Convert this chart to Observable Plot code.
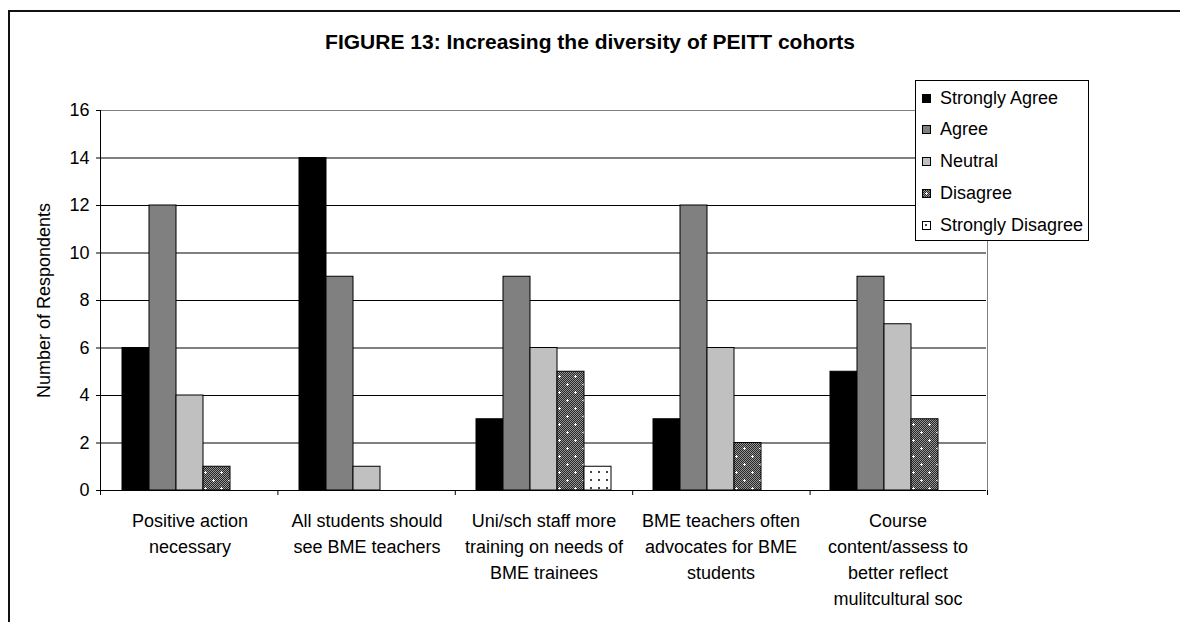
<!DOCTYPE html>
<html><head><meta charset="utf-8">
<script src="https://cdn.jsdelivr.net/npm/d3@7"></script>
<script src="https://cdn.jsdelivr.net/npm/@observablehq/plot@0.6"></script>
<style>
html,body{margin:0;padding:0;background:#fff;overflow:hidden;}
#wrap{position:relative;width:1180px;height:622px;overflow:hidden;font-family:"Liberation Sans",Arial,sans-serif;background:#fff;}
#frame{position:absolute;left:8px;top:10px;width:1200px;height:640px;border-left:2px solid #111;border-top:2px solid #111;pointer-events:none;z-index:3;}
#title{height:60px;box-sizing:border-box;padding-top:30px;line-height:24px;text-align:center;font-weight:bold;font-size:21px;color:#000;}
#legend{position:absolute;left:915px;top:80px;width:172px;height:159px;border:1px solid #000;background:#fff;z-index:2;font-size:18px;color:#000;}
.item{position:absolute;left:6px;height:22px;display:flex;align-items:center;white-space:nowrap;}
.item svg{margin-right:9px;display:block;}
#chart svg{display:block;}
</style></head><body>
<svg width="0" height="0" style="position:absolute;left:0;top:0">
  <defs>
    <pattern id="pDis" patternUnits="userSpaceOnUse" width="16" height="16"></pattern>
    <pattern id="pSDis" patternUnits="userSpaceOnUse" width="8" height="8">
      <rect width="8" height="8" fill="#fff"></rect>
      <rect x="3" y="3" width="2" height="2" fill="#444"></rect>
    </pattern>
  </defs>
</svg>
<div id="wrap"><div id="frame"></div><div id="title"></div><div id="chart"></div><div id="legend"></div></div>
<script>
// ---- data ----
const title = "FIGURE 13: Increasing the diversity of PEITT cohorts";
const yLabel = "Number of Respondents";
const categories = [
  "Positive action\nnecessary",
  "All students should\nsee BME teachers",
  "Uni/sch staff more\ntraining on needs of\nBME trainees",
  "BME teachers often\nadvocates for BME\nstudents",
  "Course\ncontent/assess to\nbetter reflect\nmulitcultural soc"
];
const series = ["Strongly Agree", "Agree", "Neutral", "Disagree", "Strongly Disagree"];
const stronglyAgree    = [6, 14, 3, 3, 5];
const agree            = [12, 9, 9, 12, 9];
const neutral          = [4, 1, 6, 6, 7];
const disagree         = [1, 0, 5, 2, 3];
const stronglyDisagree = [0, 0, 1, 0, 0];
const yTicks = [0, 2, 4, 6, 8, 10, 12, 14, 16];
const fills = ["#000000", "#808080", "#C0C0C0", "url(#pDis)", "url(#pSDis)"];

// ---- patterns ----
(function buildPatterns() {
  const p = d3.select("#pDis");
  p.append("rect").attr("width", 16).attr("height", 16).attr("fill", "#959595");
  for (let i = 0; i < 16; i++) for (let j = 0; j < 16; j++) {
    if ((i + j) % 2 === 0) p.append("rect").attr("x", i).attr("y", j).attr("width", 1).attr("height", 1).attr("fill", "#262626");
  }
  for (const [cx, cy] of [[4, 4], [12, 12]]) {
    p.append("rect").attr("x", cx - 1).attr("y", cy).attr("width", 3).attr("height", 1).attr("fill", "#fff");
    p.append("rect").attr("x", cx).attr("y", cy - 1).attr("width", 1).attr("height", 3).attr("fill", "#fff");
  }
})();

const valuesBySeries = [stronglyAgree, agree, neutral, disagree, stronglyDisagree];
const data = [];
categories.forEach((c, i) => series.forEach((s, j) => data.push({category: c, series: s, value: valuesBySeries[j][i]})));

document.getElementById("title").textContent = title;

const chart = Plot.plot({
  width: 1180,
  height: 562,
  marginTop: 50,
  marginBottom: 132,
  marginLeft: 100,
  marginRight: 193,
  style: {fontSize: "18px", fontFamily: '"Liberation Sans", Arial, sans-serif', background: "transparent", color: "#000"},
  fx: {domain: categories, padding: 0},
  x: {domain: series, paddingInner: 0, paddingOuter: 0.72, axis: null},
  y: {domain: [0, 16]},
  color: {domain: series, range: fills},
  marks: [
    Plot.gridY(yTicks.filter(v => v > 0 && v < 16), {stroke: "#000", strokeOpacity: 1}),
    Plot.ruleY([16], {stroke: "#808080"}),
    Plot.barY(data.filter(d => d.value > 0), {fx: "category", x: "series", y: "value", fill: "series", stroke: "#000", strokeWidth: 1}),
    Plot.ruleY([0], {stroke: "#000"}),
    Plot.axisY({ticks: yTicks, tickSize: 5, tickPadding: 7, label: yLabel, labelAnchor: "center", labelArrow: "none", labelOffset: 64}),
    Plot.axisFx({anchor: "bottom", tickSize: 0, tickPadding: 18, lineHeight: 1.45, label: null})
  ]
});
document.getElementById("chart").appendChild(chart);

// axis lines and category-boundary ticks from the Plot scales
(function axisLines() {
  const fx = chart.scale("fx");
  const ys = chart.scale("y");
  const range = fx.range || [100, 987];
  const step = (range[1] - range[0]) / fx.domain.length;
  const yf = ys.apply ? ys.apply : (v => ys.range[0] + (v - ys.domain[0]) / (ys.domain[1] - ys.domain[0]) * (ys.range[1] - ys.range[0]));
  const y0 = yf(0), y16 = yf(16);
  const g = d3.select(chart).append("g").attr("stroke-width", 1).attr("fill", "none");
  g.append("line").attr("x1", range[1] + 0.5).attr("x2", range[1] + 0.5).attr("y1", y16).attr("y2", y0).attr("stroke", "#808080");
  g.append("line").attr("x1", range[0] + 0.5).attr("x2", range[0] + 0.5).attr("y1", y16).attr("y2", y0 + 0.5).attr("stroke", "#000");
  for (let i = 0; i <= fx.domain.length; i++) {
    const x = range[0] + i * step;
    g.append("line").attr("x1", x + 0.5).attr("x2", x + 0.5).attr("y1", y0).attr("y2", y0 + 5).attr("stroke", "#000");
  }
})();

// legend
(function legend() {
  const lg = d3.select("#legend");
  series.forEach((s, i) => {
    const it = lg.append("div").attr("class", "item").style("top", (6 + i * 31.75) + "px");
    const sv = it.append("svg").attr("width", 9).attr("height", 9);
    sv.append("rect").attr("x", 0.5).attr("y", 0.5).attr("width", 8).attr("height", 8).attr("fill", fills[i]).attr("stroke", "#000");
    it.append("span").text(s);
  });
})();
</script>
</body></html>
